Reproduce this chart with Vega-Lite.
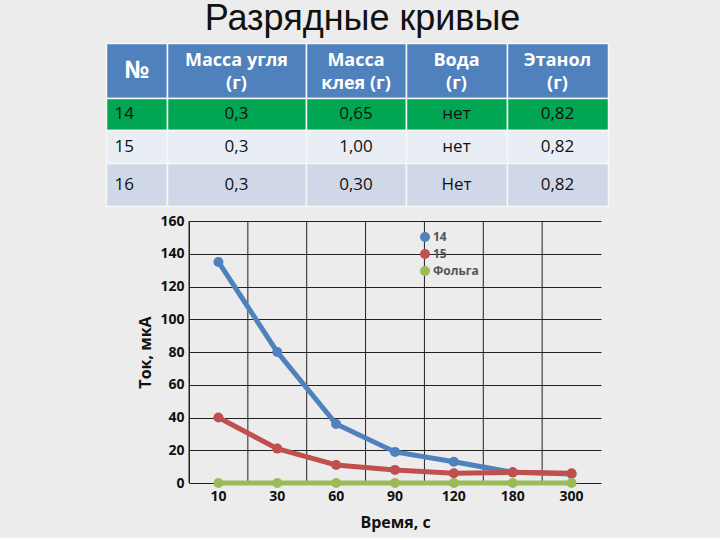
{
  "$schema": "https://vega.github.io/schema/vega-lite/v6.json",
  "background": "#ececec",
  "padding": {"left": 105, "top": 0, "right": 112, "bottom": 8},
  "title": {"text": "Разрядные кривые", "fontSize": 36, "fontWeight": "normal", "font": "Liberation Sans", "color": "#111111", "anchor": "middle", "offset": 5, "dx": 5},
  "bounds": "flush",
  "spacing": 15,
  "datasets": {
    "table": [
      {"ri": 0, "ci": 0, "row": "h", "text": "№"},
      {"ri": 0, "ci": 1, "row": "h", "text": "Масса угля\n(г)"},
      {"ri": 0, "ci": 2, "row": "h", "text": "Масса\nклея (г)"},
      {"ri": 0, "ci": 3, "row": "h", "text": "Вода\n(г)"},
      {"ri": 0, "ci": 4, "row": "h", "text": "Этанол\n(г)"},
      {"ri": 1, "ci": 0, "row": "14", "text": "14"},
      {"ri": 1, "ci": 1, "row": "14", "text": "0,3"},
      {"ri": 1, "ci": 2, "row": "14", "text": "0,65"},
      {"ri": 1, "ci": 3, "row": "14", "text": "нет"},
      {"ri": 1, "ci": 4, "row": "14", "text": "0,82"},
      {"ri": 2, "ci": 0, "row": "15", "text": "15"},
      {"ri": 2, "ci": 1, "row": "15", "text": "0,3"},
      {"ri": 2, "ci": 2, "row": "15", "text": "1,00"},
      {"ri": 2, "ci": 3, "row": "15", "text": "нет"},
      {"ri": 2, "ci": 4, "row": "15", "text": "0,82"},
      {"ri": 3, "ci": 0, "row": "16", "text": "16"},
      {"ri": 3, "ci": 1, "row": "16", "text": "0,3"},
      {"ri": 3, "ci": 2, "row": "16", "text": "0,30"},
      {"ri": 3, "ci": 3, "row": "16", "text": "Нет"},
      {"ri": 3, "ci": 4, "row": "16", "text": "0,82"}
    ],
    "curves": [
      {"series": "14", "t": 10, "current": 135},
      {"series": "14", "t": 30, "current": 80},
      {"series": "14", "t": 60, "current": 36},
      {"series": "14", "t": 90, "current": 19},
      {"series": "14", "t": 120, "current": 13},
      {"series": "14", "t": 180, "current": 6.5},
      {"series": "14", "t": 300, "current": 5.5},
      {"series": "15", "t": 10, "current": 40},
      {"series": "15", "t": 30, "current": 21},
      {"series": "15", "t": 60, "current": 11},
      {"series": "15", "t": 90, "current": 8},
      {"series": "15", "t": 120, "current": 6},
      {"series": "15", "t": 180, "current": 6.5},
      {"series": "15", "t": 300, "current": 6},
      {"series": "Фольга", "t": 10, "current": 0},
      {"series": "Фольга", "t": 30, "current": 0},
      {"series": "Фольга", "t": 60, "current": 0},
      {"series": "Фольга", "t": 90, "current": 0},
      {"series": "Фольга", "t": 120, "current": 0},
      {"series": "Фольга", "t": 180, "current": 0},
      {"series": "Фольга", "t": 300, "current": 0}
    ]
  },
  "vconcat": [
    {
      "width": 412,
      "height": 163,
      "data": {"name": "table"},
      "encoding": {
        "x": {"field": "ci", "type": "quantitative", "bin": {"extent": [0, 5], "step": 1, "nice": false}, "scale": {"domain": [0, 1, 2, 3, 4, 5], "range": [-83, -22, 117, 217, 318, 419], "nice": false, "zero": false}, "axis": null},
        "y": {"field": "ri", "type": "quantitative", "bin": {"extent": [0, 4], "step": 1, "nice": false}, "scale": {"domain": [0, 1, 2, 3, 4], "range": [0, 55, 87, 120, 163], "nice": false, "zero": false}, "axis": null}
      },
      "layer": [
        {
          "mark": {"type": "rect", "stroke": "#f6f6f6", "strokeWidth": 1.5},
          "encoding": {
            "fill": {"field": "row", "type": "nominal", "scale": {"domain": ["h", "14", "15", "16"], "range": ["#4f81bd", "#00a651", "#e9edf4", "#d0d8e8"]}, "legend": null}
          }
        },
        {
          "transform": [{"filter": "datum.ri == 0 && datum.ci > 0"}],
          "mark": {"type": "text", "color": "#ffffff", "fontWeight": "bold", "fontSize": 18, "lineBreak": "\n", "lineHeight": 23, "dy": -10, "font": "Open Sans"},
          "encoding": {"text": {"field": "text", "type": "nominal"}}
        },
        {
          "transform": [{"filter": "datum.ri == 0 && datum.ci == 0"}],
          "mark": {"type": "text", "color": "#ffffff", "fontWeight": "bold", "fontSize": 24, "font": "Open Sans"},
          "encoding": {"text": {"field": "text", "type": "nominal"}}
        },
        {
          "transform": [{"filter": "datum.ri > 0 && datum.ci > 0"}],
          "mark": {"type": "text", "color": "#111111", "fontSize": 17, "font": "Open Sans"},
          "encoding": {"text": {"field": "text", "type": "nominal"}}
        },
        {
          "transform": [{"filter": "datum.ri > 0 && datum.ci == 0"}],
          "mark": {"type": "text", "color": "#111111", "fontSize": 17, "align": "left", "dx": -22, "font": "Open Sans"},
          "encoding": {"text": {"field": "text", "type": "nominal"}}
        }
      ]
    },
    {
      "width": 412,
      "height": 262,
      "data": {"name": "curves"},
      "layer": [
        {
          "transform": [{"filter": "datum.series == '14'"}],
          "mark": {"type": "rule", "color": "#222222", "strokeWidth": 1},
          "encoding": {
            "x": {"field": "t", "type": "ordinal", "bandPosition": 0}
          }
        },
        {
          "mark": {"type": "line", "strokeWidth": 5, "point": {"filled": true, "size": 100}},
          "encoding": {
            "x": {
              "field": "t", "type": "ordinal",
              "scale": {"type": "band", "paddingInner": 0, "paddingOuter": 0},
              "axis": {"title": "Время, с", "labelAngle": 0, "labelAlign": "center", "labelBaseline": "top", "bandPosition": 0.5, "grid": false, "ticks": false, "domain": false, "labelFont": "Open Sans", "labelFontWeight": "bold", "labelFontSize": 14, "labelColor": "#111111", "labelPadding": 6, "titleFont": "Open Sans", "titleFontWeight": "bold", "titleFontSize": 16, "titleColor": "#111111", "titlePadding": 11}
            },
            "y": {
              "field": "current", "type": "quantitative",
              "scale": {"domain": [0, 160]},
              "axis": {"title": "Ток, мкА", "values": [0, 20, 40, 60, 80, 100, 120, 140, 160], "grid": true, "gridColor": "#222222", "gridWidth": 1, "gridOpacity": 1, "ticks": false, "domain": true, "domainColor": "#222222", "labelFont": "Open Sans", "labelFontWeight": "bold", "labelFontSize": 14, "labelColor": "#111111", "labelPadding": 5, "titleFont": "Open Sans", "titleFontWeight": "bold", "titleFontSize": 16, "titleColor": "#111111", "titlePadding": 6}
            },
            "color": {
              "field": "series", "type": "nominal",
              "scale": {"domain": ["14", "15", "Фольга"], "range": ["#4f81bd", "#c0504d", "#9bbb59"]},
              "legend": {"orient": "none", "legendX": 230, "legendY": 188, "title": null, "symbolType": "circle", "symbolSize": 100, "symbolStrokeWidth": 0, "labelFont": "Open Sans", "labelFontSize": 12, "labelFontWeight": "bold", "labelColor": "#555555", "rowPadding": 5, "padding": 0, "labelOffset": 2}
            }
          }
        }
      ]
    }
  ],
  "config": {"view": {"stroke": null}, "font": "Open Sans"}
}
